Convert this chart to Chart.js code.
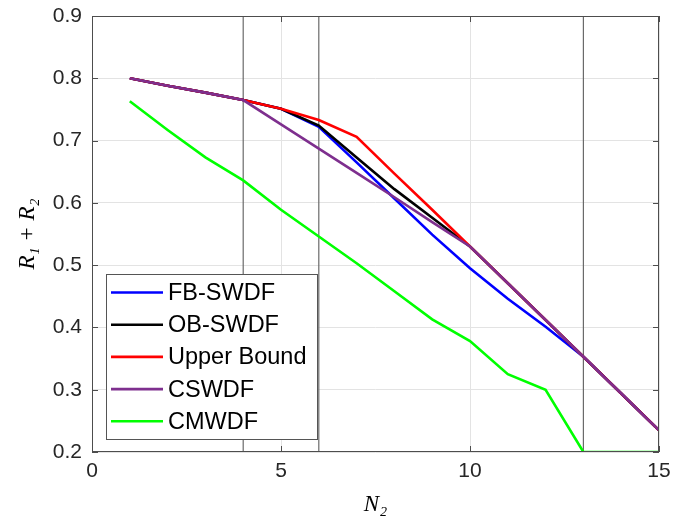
<!DOCTYPE html>
<html>
<head>
<meta charset="utf-8">
<script src="https://cdn.jsdelivr.net/npm/chart.js@4.4.1/dist/chart.umd.min.js"></script>
<style>
    html, body { margin: 0; padding: 0; background: #ffffff; }
    #wrap { position: relative; width: 684px; height: 520px; }
</style>
</head>
<body>
<div id="wrap"><canvas id="sumRateChart" width="684" height="520"></canvas></div>
<script>
var nValues = [1, 2, 3, 4, 5, 6, 7, 8, 9, 10, 11, 12, 13, 14, 15];

var fbSwdf = [0.800, 0.788, 0.777, 0.765, 0.751, 0.722, 0.665, 0.607, 0.549, 0.495, 0.446, 0.401, 0.353, 0.294, 0.235];
var obSwdf = [0.800, 0.788, 0.777, 0.765, 0.751, 0.724, 0.673, 0.622, 0.576, 0.530, 0.471, 0.412, 0.353, 0.294, 0.235];
var upperBound = [0.800, 0.788, 0.777, 0.765, 0.751, 0.733, 0.706, 0.647, 0.589, 0.530, 0.471, 0.412, 0.353, 0.294, 0.235];
var cswdf = [0.800, 0.788, 0.777, 0.765, 0.726, 0.687, 0.648, 0.609, 0.569, 0.530, 0.471, 0.412, 0.353, 0.294, 0.235];
var cmwdf = [0.763, 0.717, 0.673, 0.636, 0.589, 0.546, 0.503, 0.458, 0.413, 0.378, 0.325, 0.300, 0.200, 0.200, 0.200];

var seriesNames = ['FB-SWDF', 'OB-SWDF', 'Upper Bound', 'CSWDF', 'CMWDF'];
var seriesColors = ['#0000ff', '#000000', '#ff0000', '#7e2f8e', '#00ff00'];

// vertical marker lines
var markerX = [4, 6, 13];

var xTicks = [0, 5, 10, 15];
var yTicks = [0.2, 0.3, 0.4, 0.5, 0.6, 0.7, 0.8, 0.9];

var tickFont = '"Liberation Sans", Arial, Helvetica, sans-serif';
var mathFont = '"Liberation Serif", "DejaVu Serif", serif';

function toPoints(ys) {
    return nValues.map(function (x, i) { return {x: x, y: ys[i]}; });
}

var allSeries = [fbSwdf, obSwdf, upperBound, cswdf, cmwdf];
var datasets = [];

allSeries.forEach(function (ys, i) {
    datasets.push({
        label: seriesNames[i],
        data: toPoints(ys),
        borderColor: seriesColors[i],
        backgroundColor: seriesColors[i],
        borderWidth: 2.6,
        pointRadius: 0,
        tension: 0,
        order: 5 - i
    });
});

markerX.forEach(function (mx) {
    datasets.push({
        label: 'marker',
        data: [{x: mx, y: yTicks[0]}, {x: mx, y: yTicks[yTicks.length - 1]}],
        borderColor: '#6a6a6a',
        borderWidth: 1.2,
        pointRadius: 0,
        order: 20
    });
});

// box, inward ticks and legend, matlab style
var matlabBox = {
    id: 'matlabBox',
    afterDatasetsDraw: function (chart) {
        var ctx = chart.ctx;
        var a = chart.chartArea;
        var xs = chart.scales.x;
        var ys = chart.scales.y;

        ctx.save();
        ctx.strokeStyle = '#4d4d4d';
        ctx.lineWidth = 1;
        ctx.strokeRect(a.left + 0.5, a.top + 0.5, a.right - a.left - 1, a.bottom - a.top - 1);

        ctx.beginPath();
        xTicks.forEach(function (t) {
            var px = Math.round(xs.getPixelForValue(t)) + 0.5;
            ctx.moveTo(px, a.bottom);
            ctx.lineTo(px, a.bottom - 6);
            ctx.moveTo(px, a.top);
            ctx.lineTo(px, a.top + 6);
        });
        yTicks.forEach(function (t) {
            var py = Math.round(ys.getPixelForValue(t)) + 0.5;
            ctx.moveTo(a.left, py);
            ctx.lineTo(a.left + 6, py);
            ctx.moveTo(a.right, py);
            ctx.lineTo(a.right - 6, py);
        });
        ctx.stroke();

        // legend
        var boxL = 106, boxT = 274, boxW = 211, boxH = 165;
        var rowH = 32.2;
        ctx.fillStyle = '#ffffff';
        ctx.fillRect(boxL, boxT, boxW, boxH);
        ctx.strokeStyle = '#555555';
        ctx.strokeRect(boxL + 0.5, boxT + 0.5, boxW, boxH);

        ctx.font = '23.5px ' + tickFont;
        ctx.textBaseline = 'middle';
        ctx.textAlign = 'left';
        seriesNames.forEach(function (name, i) {
            var cy = boxT + 18.5 + i * rowH;
            ctx.strokeStyle = seriesColors[i];
            ctx.lineWidth = 2.6;
            ctx.beginPath();
            ctx.moveTo(boxL + 5, cy);
            ctx.lineTo(boxL + 57, cy);
            ctx.stroke();
            ctx.fillStyle = '#000000';
            ctx.fillText(name, boxL + 62, cy + 1);
        });
        ctx.restore();
    }
};

var ctx = document.getElementById('sumRateChart');
var sumRateChart = new Chart(ctx, {
    type: 'line',
    data: {datasets: datasets},
    options: {
        responsive: false,
        animation: false,
        layout: {padding: {left: 0, right: 25, top: 16, bottom: 0}},
        plugins: {
            legend: {display: false},
            tooltip: {enabled: false}
        },
        scales: {
            x: {
                type: 'linear',
                min: 0,
                max: 15,
                afterBuildTicks: function (scale) {
                    scale.ticks = xTicks.map(function (v) { return {value: v}; });
                },
                afterFit: function (scale) {
                    scale.height = 68;
                    scale.paddingLeft = 0;
                    scale.paddingRight = 0;
                },
                ticks: {
                    color: '#262626',
                    font: {family: tickFont, size: 21},
                    padding: 7,
                    maxRotation: 0
                },
                grid: {color: '#e3e3e3', drawTicks: false},
                border: {display: false},
                title: {
                    display: true,
                    text: 'N\u2082',
                    color: '#000000',
                    font: {family: mathFont, size: 23, style: 'italic'},
                    padding: {top: 0, bottom: 1}
                }
            },
            y: {
                type: 'linear',
                min: 0.2,
                max: 0.9,
                afterBuildTicks: function (scale) {
                    scale.ticks = yTicks.map(function (v) { return {value: v}; });
                },
                afterFit: function (scale) {
                    scale.width = 92;
                    scale.paddingTop = 0;
                    scale.paddingBottom = 0;
                },
                ticks: {
                    color: '#262626',
                    font: {family: tickFont, size: 21},
                    padding: 10,
                    callback: function (v) { return v.toFixed(1); }
                },
                grid: {color: '#e3e3e3', drawTicks: false},
                border: {display: false},
                title: {
                    display: true,
                    text: 'R\u2081 + R\u2082',
                    color: '#000000',
                    font: {family: mathFont, size: 23, style: 'italic'},
                    padding: {top: 14, bottom: 0}
                }
            }
        }
    },
    plugins: [matlabBox]
});
console.log('chart area', sumRateChart.chartArea);
</script>
</body>
</html>
